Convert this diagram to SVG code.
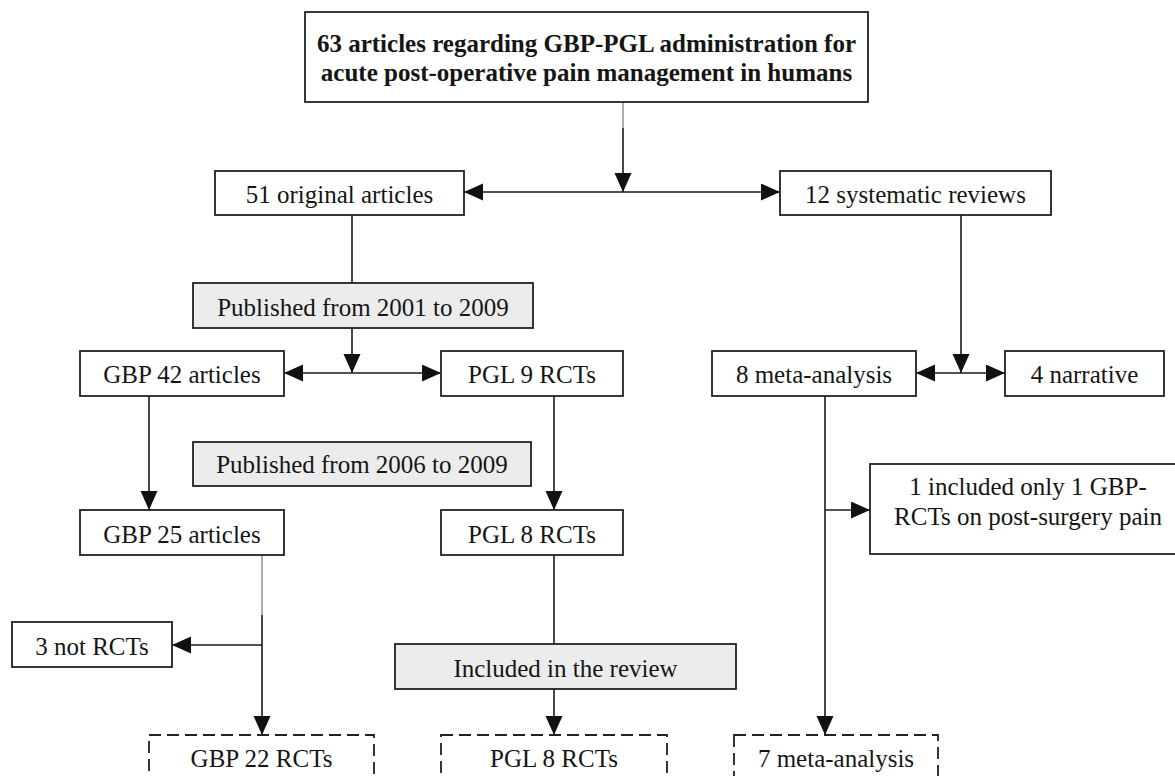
<svg xmlns="http://www.w3.org/2000/svg" width="1175" height="776" viewBox="0 0 1175 776">
  <style>
    .box { fill: #ffffff; stroke: #222222; stroke-width: 1.8; }
    .gray { fill: #ececec; stroke: #222222; stroke-width: 1.8; }
    .dash { fill: #ffffff; stroke: #222222; stroke-width: 1.8; stroke-dasharray: 12 6; }
    .t { font-family: 'Liberation Serif', 'DejaVu Serif', serif; font-size: 25px; fill: #151515; text-anchor: middle; }
    .b { font-weight: bold; }
    .ln { fill: none; stroke: #1a1a1a; stroke-width: 1.6; }
    .lg { fill: none; stroke: #8a8a8a; stroke-width: 1.4; }
    .arr { marker-end: url(#ah); }
    .arr2 { marker-start: url(#ah); marker-end: url(#ah); }
  </style>
  <defs>
    <marker id="ah" markerUnits="userSpaceOnUse" markerWidth="21" markerHeight="19" refX="19" refY="8.5" orient="auto-start-reverse">
      <path d="M0,0 L19,8.5 L0,17 z" fill="#111111"/>
    </marker>
  </defs>
  <rect width="1175" height="776" fill="#ffffff"/>

  <g id="connectors">
    <line class="lg" x1="623" y1="102" x2="623" y2="128"/>
    <line class="ln arr" x1="623" y1="128" x2="623" y2="192"/>
    <line class="ln arr2" x1="464" y1="192" x2="780" y2="192"/>
    <line class="ln" x1="352" y1="215" x2="352" y2="283"/>
    <line class="ln arr" x1="352" y1="328" x2="352" y2="373"/>
    <line class="ln arr2" x1="284" y1="373" x2="441" y2="373"/>
    <line class="ln arr" x1="961" y1="215" x2="961" y2="373"/>
    <line class="ln arr2" x1="916" y1="373" x2="1005" y2="373"/>
    <line class="ln arr" x1="149" y1="396" x2="149" y2="510"/>
    <line class="ln arr" x1="554" y1="396" x2="554" y2="510"/>
    <line class="lg" x1="262" y1="555" x2="262" y2="615"/>
    <line class="ln arr" x1="262" y1="615" x2="262" y2="735"/>
    <line class="ln arr" x1="262" y1="645" x2="172" y2="645"/>
    <line class="ln" x1="554" y1="555" x2="554" y2="644"/>
    <line class="ln arr" x1="554" y1="689" x2="554" y2="735"/>
    <line class="ln arr" x1="825" y1="396" x2="825" y2="735"/>
    <line class="ln arr" x1="825" y1="510" x2="870" y2="510"/>
  </g>

  <g id="n-top">
    <rect class="box" x="305" y="12" width="563" height="90"/>
    <text class="t b" x="586.5" y="52" font-family="Liberation Serif, serif">63 articles regarding GBP-PGL administration for</text>
    <text class="t b" x="586.5" y="81" font-family="Liberation Serif, serif">acute post-operative pain management in humans</text>
  </g>
  <g id="n-original">
    <rect class="box" x="215" y="171" width="249" height="44"/>
    <text class="t" x="339.5" y="203">51 original articles</text>
  </g>
  <g id="n-systematic">
    <rect class="box" x="780" y="171" width="271" height="44"/>
    <text class="t" x="915.5" y="203">12 systematic reviews</text>
  </g>
  <g id="n-pub2001">
    <rect class="gray" x="193" y="283" width="340" height="45"/>
    <text class="t" x="363" y="316">Published from 2001 to 2009</text>
  </g>
  <g id="n-gbp42">
    <rect class="box" x="80" y="351" width="204" height="45"/>
    <text class="t" x="182" y="383">GBP 42 articles</text>
  </g>
  <g id="n-pgl9">
    <rect class="box" x="441" y="351" width="182" height="45"/>
    <text class="t" x="532" y="383">PGL 9 RCTs</text>
  </g>
  <g id="n-meta8">
    <rect class="box" x="712" y="351" width="204" height="45"/>
    <text class="t" x="814" y="383">8 meta-analysis</text>
  </g>
  <g id="n-narrative">
    <rect class="box" x="1005" y="351" width="159" height="45"/>
    <text class="t" x="1084.5" y="383">4 narrative</text>
  </g>
  <g id="n-pub2006">
    <rect class="gray" x="193" y="442" width="338" height="44"/>
    <text class="t" x="362" y="473">Published from 2006 to 2009</text>
  </g>
  <g id="n-gbp25">
    <rect class="box" x="80" y="510" width="204" height="45"/>
    <text class="t" x="182" y="543">GBP 25 articles</text>
  </g>
  <g id="n-pgl8">
    <rect class="box" x="441" y="510" width="182" height="45"/>
    <text class="t" x="532" y="543">PGL 8 RCTs</text>
  </g>
  <g id="n-included1">
    <rect class="box" x="870" y="464" width="316" height="90"/>
    <text class="t" x="1028" y="495">1 included only 1 GBP-</text>
    <text class="t" x="1028" y="525">RCTs on post-surgery pain</text>
  </g>
  <g id="n-notrct">
    <rect class="box" x="12" y="622" width="160" height="45"/>
    <text class="t" x="92" y="655">3 not RCTs</text>
  </g>
  <g id="n-review">
    <rect class="gray" x="395" y="644" width="341" height="45"/>
    <text class="t" x="565.5" y="677">Included in the review</text>
  </g>
  <g id="n-gbp22">
    <rect class="dash" x="149" y="735" width="225" height="45"/>
    <text class="t" x="261.5" y="767">GBP 22 RCTs</text>
  </g>
  <g id="n-pgl8final">
    <rect class="dash" x="441" y="735" width="226" height="45"/>
    <text class="t" x="554" y="767">PGL 8 RCTs</text>
  </g>
  <g id="n-meta7">
    <rect class="dash" x="734" y="735" width="204" height="45"/>
    <text class="t" x="836" y="767">7 meta-analysis</text>
  </g>
</svg>
